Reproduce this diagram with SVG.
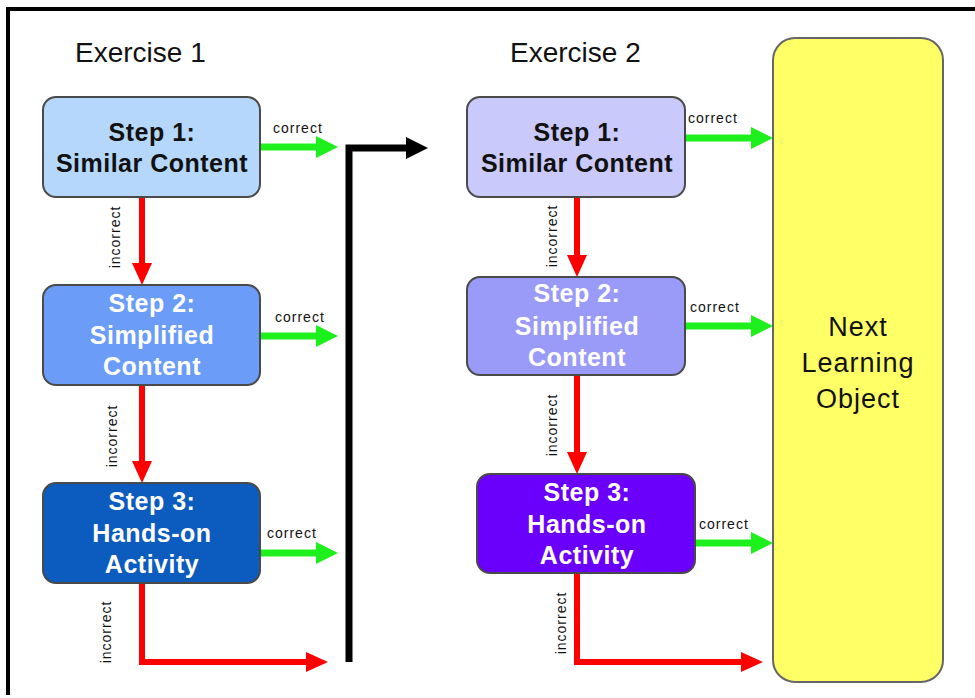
<svg xmlns="http://www.w3.org/2000/svg" width="975" height="698" viewBox="0 0 975 698">
<style>
.title{font-family:"Liberation Sans",Arial,sans-serif;font-size:28px;fill:#111}
.box{stroke:#4a4a4a;stroke-width:2}
.nt{font-family:"Liberation Sans",Arial,sans-serif;font-size:25px;font-weight:bold;text-anchor:middle;letter-spacing:0.5px}
.dark{fill:#111}
.light{fill:#fff}
.lbl{font-family:"Liberation Sans",Arial,sans-serif;font-size:14px;fill:#111;letter-spacing:1px}
.lblv{font-family:"Liberation Sans",Arial,sans-serif;font-size:14px;fill:#111;letter-spacing:1px;text-anchor:middle}
.g{stroke:#1ef01e;stroke-width:7;fill:none;marker-end:url(#hg)}
.r{stroke:#f00;stroke-width:6;fill:none;stroke-linejoin:miter;marker-end:url(#hr)}
.k{stroke:#000;stroke-width:7;fill:none;stroke-linejoin:miter;marker-end:url(#hk)}
</style>
<defs>
<marker id="hg" markerUnits="userSpaceOnUse" viewBox="0 0 22 22" markerWidth="22" markerHeight="22" refX="0" refY="11" orient="auto"><path d="M0,0 L22,11 L0,22 Z" fill="#1ef01e"/></marker>
<marker id="hr" markerUnits="userSpaceOnUse" viewBox="0 0 22 22" markerWidth="22" markerHeight="22" refX="0" refY="11" orient="auto"><path d="M0,1 L22,11 L0,21 Z" fill="#f00"/></marker>
<marker id="hk" markerUnits="userSpaceOnUse" viewBox="0 0 22 22" markerWidth="22" markerHeight="22" refX="0" refY="11" orient="auto"><path d="M0,0 L22,11 L0,22 Z" fill="#000"/></marker>
</defs>
<rect width="975" height="698" fill="#fff"/>
<path d="M8,695 V9 H975" fill="none" stroke="#000" stroke-width="4"/>
<text class="title" x="75" y="62">Exercise 1</text>
<text class="title" x="510" y="62">Exercise 2</text>

<g id="connectors">
<path class="g" d="M260,147 H316"/>
<path class="g" d="M260,336 H316"/>
<path class="g" d="M260,553 H316"/>
<path class="r" d="M142,197 V263"/>
<path class="r" d="M142,385 V461"/>
<path class="r" d="M142,583 V662 H306"/>
<path class="k" d="M349,662 V148 H406"/>
<path class="g" d="M685,138 H751"/>
<path class="g" d="M685,326 H751"/>
<path class="g" d="M695,543 H751"/>
<path class="r" d="M577,197 V255"/>
<path class="r" d="M577,375 V452"/>
<path class="r" d="M577,573 V662 H741"/>
<text class="lbl" x="273" y="133">correct</text>
<text class="lbl" x="275" y="322">correct</text>
<text class="lbl" x="267" y="538">correct</text>
<text class="lbl" x="688" y="123">correct</text>
<text class="lbl" x="690" y="312">correct</text>
<text class="lbl" x="699" y="529">correct</text>
<text class="lblv" transform="translate(120,237) rotate(-90)">incorrect</text>
<text class="lblv" transform="translate(117,436) rotate(-90)">incorrect</text>
<text class="lblv" transform="translate(111,632) rotate(-90)">incorrect</text>
<text class="lblv" transform="translate(557,236) rotate(-90)">incorrect</text>
<text class="lblv" transform="translate(557,425) rotate(-90)">incorrect</text>
<text class="lblv" transform="translate(566,623) rotate(-90)">incorrect</text>
</g>

<g id="e1s1">
<rect class="box" x="43" y="97" width="217" height="100" rx="13" fill="#b4d7fb"/>
<text class="nt dark" x="152" y="141">Step 1:</text>
<text class="nt dark" x="152" y="172">Similar Content</text>
</g>
<g id="e1s2">
<rect class="box" x="43" y="285" width="217" height="100" rx="13" fill="#6a9cf8"/>
<text class="nt light" x="152" y="312">Step 2:</text>
<text class="nt light" x="152" y="344">Simplified</text>
<text class="nt light" x="152" y="375">Content</text>
</g>
<g id="e1s3">
<rect class="box" x="43" y="483" width="217" height="100" rx="13" fill="#0c5cc0"/>
<text class="nt light" x="152" y="510">Step 3:</text>
<text class="nt light" x="152" y="542">Hands-on</text>
<text class="nt light" x="152" y="573">Activity</text>
</g>
<g id="e2s1">
<rect class="box" x="467" y="97" width="218" height="100" rx="13" fill="#c9c9fb"/>
<text class="nt dark" x="577" y="141">Step 1:</text>
<text class="nt dark" x="577" y="172">Similar Content</text>
</g>
<g id="e2s2">
<rect class="box" x="467" y="277" width="218" height="98" rx="13" fill="#9a9af8"/>
<text class="nt light" x="577" y="302">Step 2:</text>
<text class="nt light" x="577" y="335">Simplified</text>
<text class="nt light" x="577" y="366">Content</text>
</g>
<g id="e2s3">
<rect class="box" x="477" y="474" width="218" height="99" rx="13" fill="#6a00fc"/>
<text class="nt light" x="587" y="501">Step 3:</text>
<text class="nt light" x="587" y="533">Hands-on</text>
<text class="nt light" x="587" y="564">Activity</text>
</g>
<g id="next">
<rect x="773" y="38" width="170" height="644" rx="22" fill="#ffff66" stroke="#666" stroke-width="2"/>
<text x="858" y="336" text-anchor="middle" font-family="'Liberation Sans',Arial,sans-serif" font-size="27" letter-spacing="1" fill="#111">Next</text>
<text x="858" y="372" text-anchor="middle" font-family="'Liberation Sans',Arial,sans-serif" font-size="27" letter-spacing="1" fill="#111">Learning</text>
<text x="858" y="408" text-anchor="middle" font-family="'Liberation Sans',Arial,sans-serif" font-size="27" letter-spacing="1" fill="#111">Object</text>
</g>
</svg>
